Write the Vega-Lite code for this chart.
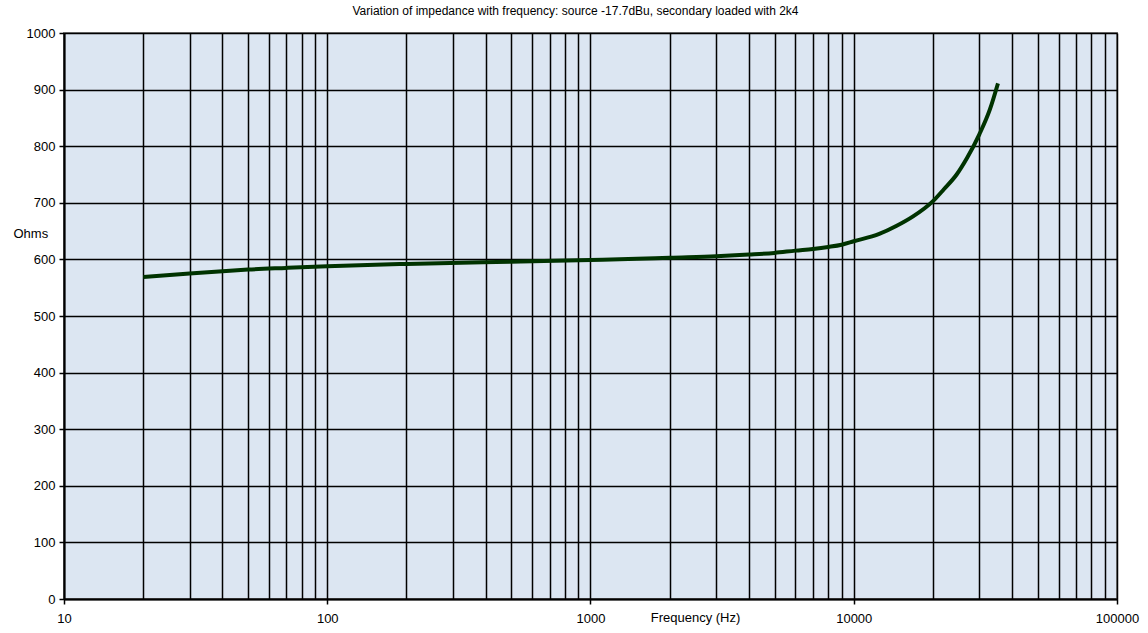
{
  "$schema": "https://vega.github.io/schema/vega-lite/v6.json",
  "autosize": "none",
  "width": 1053,
  "height": 566,
  "padding": {"left": 64, "top": 33, "right": 31, "bottom": 34},
  "background": "white",
  "config": {
    "view": {"fill": "#dce6f2", "stroke": "#808080", "strokeWidth": 2},
    "font": "Liberation Sans"
  },
  "title": {
    "text": "Variation of impedance with frequency: source  -17.7dBu, secondary loaded with 2k4",
    "fontSize": 12,
    "fontWeight": "normal",
    "font": "Liberation Sans",
    "color": "#000000",
    "anchor": "middle",
    "dx": -15,
    "offset": 9
  },
  "data": {
    "values": [
      {"f": 20, "ohms": 569},
      {"f": 30, "ohms": 575},
      {"f": 40, "ohms": 579},
      {"f": 50, "ohms": 582},
      {"f": 70, "ohms": 585},
      {"f": 100, "ohms": 588},
      {"f": 200, "ohms": 592},
      {"f": 500, "ohms": 596},
      {"f": 1000, "ohms": 599},
      {"f": 1500, "ohms": 601},
      {"f": 2000, "ohms": 603},
      {"f": 3000, "ohms": 605.5},
      {"f": 4000, "ohms": 608.5},
      {"f": 5000, "ohms": 611.5},
      {"f": 6000, "ohms": 615.5},
      {"f": 7000, "ohms": 618.5},
      {"f": 8000, "ohms": 622},
      {"f": 9000, "ohms": 626},
      {"f": 10000, "ohms": 632},
      {"f": 12500, "ohms": 645},
      {"f": 14500, "ohms": 659},
      {"f": 16800, "ohms": 676},
      {"f": 20000, "ohms": 703},
      {"f": 22000, "ohms": 724},
      {"f": 24600, "ohms": 750},
      {"f": 27000, "ohms": 780},
      {"f": 30000, "ohms": 821},
      {"f": 32900, "ohms": 865},
      {"f": 35300, "ohms": 911}
    ]
  },
  "mark": {"type": "line", "color": "#003300", "strokeWidth": 4, "interpolate": "monotone"},
  "encoding": {
    "x": {
      "field": "f",
      "type": "quantitative",
      "scale": {"type": "log", "domain": [10, 100000], "nice": false},
      "axis": {
        "title": "Frequency (Hz)",
        "titleFontSize": 13,
        "titleFontWeight": "normal",
        "titleColor": "#000",
        "titleX": 631,
        "titleY": 18,
        "titleBaseline": "middle",
        "titleAnchor": null,
        "titleAlign": "center",
        "values": [10,20,30,40,50,60,70,80,90,100,200,300,400,500,600,700,800,900,1000,2000,3000,4000,5000,6000,7000,8000,9000,10000,20000,30000,40000,50000,60000,70000,80000,90000,100000],
        "format": "d",
        "labelExpr": "abs(log(datum.value)/LN10 - round(log(datum.value)/LN10)) < 1e-6 ? datum.label : ''",
        "labelFontSize": 13,
        "labelColor": "#000",
        "labelPadding": 8,
        "labelOverlap": false,
        "labelFlush": false,
        "grid": true,
        "gridColor": "#000",
        "gridWidth": 1.5,
        "gridOpacity": 1,
        "domainColor": "#000",
        "domainWidth": 2,
        "tickColor": "#000",
        "tickWidth": 1.5,
        "tickSize": 5,
        "tickOpacity": {"condition": {"test": "abs(log(datum.value)/LN10 - round(log(datum.value)/LN10)) < 1e-6", "value": 1}, "value": 0}
      }
    },
    "y": {
      "field": "ohms",
      "type": "quantitative",
      "scale": {"domain": [0, 1000], "nice": false},
      "axis": {
        "title": "Ohms",
        "titleFontSize": 13,
        "titleFontWeight": "normal",
        "titleColor": "#000",
        "titleAngle": 0,
        "titleX": -51,
        "titleY": 200,
        "titleAlign": "left",
        "titleBaseline": "middle",
        "titleAnchor": null,
        "values": [0,100,200,300,400,500,600,700,800,900,1000],
        "format": "d",
        "labelFontSize": 13,
        "labelColor": "#000",
        "labelPadding": 4,
        "grid": true,
        "gridColor": "#000",
        "gridWidth": 1.5,
        "gridOpacity": 1,
        "domainColor": "#000",
        "domainWidth": 2,
        "tickColor": "#000",
        "tickWidth": 1.5,
        "tickSize": 5
      }
    }
  }
}
